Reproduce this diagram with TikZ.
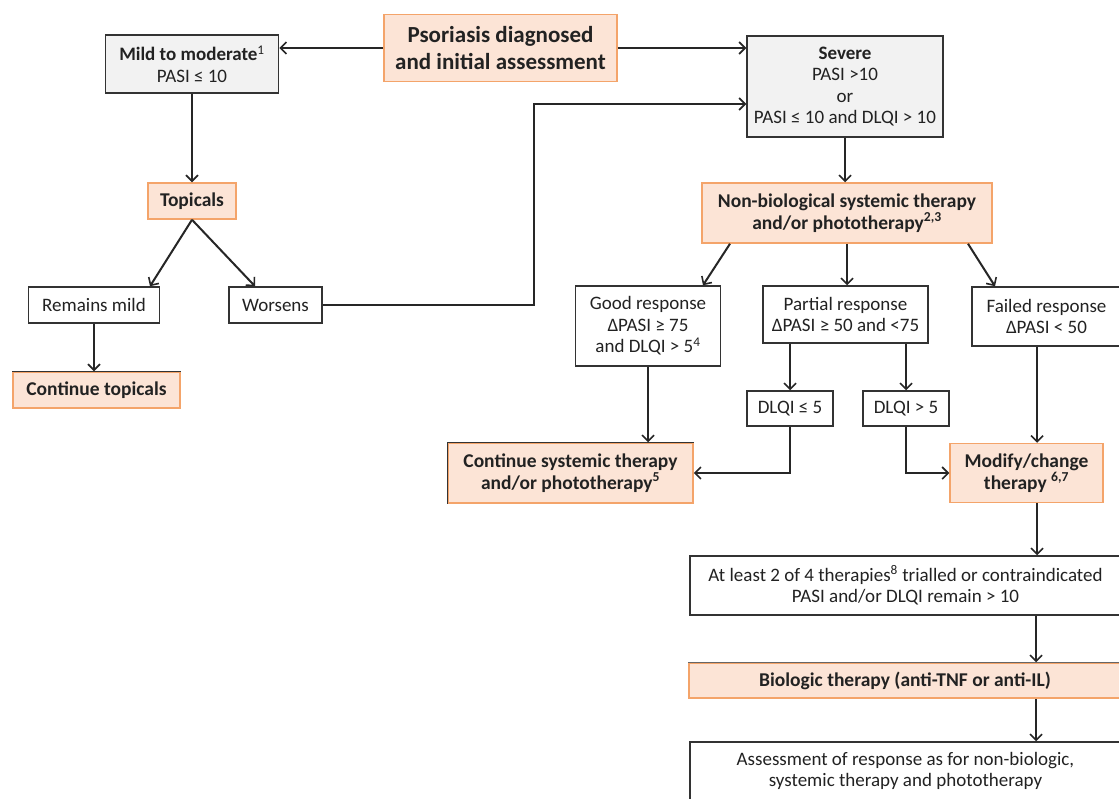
\documentclass[tikz,border=0pt]{standalone}
\usepackage{fontspec}
\setmainfont{Carlito}
\usetikzlibrary{arrows.meta,calc}
\definecolor{peach}{HTML}{FCE4D6}
\definecolor{orangeB}{HTML}{F4A46A}
\definecolor{greyF}{HTML}{F2F2F2}
\definecolor{boxB}{HTML}{333333}
\definecolor{txt}{HTML}{222222}
\tikzset{
  base/.style={rectangle, inner sep=0pt, align=center, text=txt, font=\fontsize{19}{21.5}\selectfont},
  whitebox/.style={base, draw=boxB, line width=1.5pt, fill=white},
  greybox/.style={base, draw=boxB, line width=1.5pt, fill=greyF},
  orangebox/.style={base, draw=orangeB, line width=1.5pt, fill=peach, font=\fontsize{19.5}{21.5}\selectfont\bfseries},
  darkedge/.style={line width=1.5pt, draw=boxB},
  arr/.style={line width=2pt, draw=black!85, -{Straight Barb[length=6pt,width=12pt,line width=1.6pt]}},
  sz/.style 2 args={minimum width=#1pt, minimum height=#2pt},
}
\begin{document}
\begin{tikzpicture}[x=1pt,y=-1pt]
\clip (0,0) rectangle (1119,798);
\fill[white] (0,0) rectangle (1119,798);
% nodes
\node[orangebox, sz={233}{67}, font=\fontsize{23}{27}\selectfont\bfseries] (psor) at (500.5,48) {Psoriasis diagnosed\\and initial assessment};
\node[greybox, sz={173}{58}] (mild) at (192,64) {\textbf{Mild to moderate}\textsuperscript{1}\\PASI ≤ 10};
\node[greybox, sz={196}{101}] (severe) at (845,86.5) {\textbf{Severe}\\PASI >10\\or\\PASI ≤ 10 and DLQI > 10};
\node[orangebox, sz={88}{36}] (topicals) at (192,201) {Topicals};
\node[whitebox, sz={131}{36}] (remains) at (94,305) {Remains mild};
\node[whitebox, sz={93}{36}] (worsens) at (275.5,305) {Worsens};
\node[orangebox, sz={167}{36}] (conttop) at (96.5,390) {Continue topicals};
\node[orangebox, sz={290}{60}] (nonbio) at (847,213) {Non-biological systemic therapy\\and/or phototherapy\textsuperscript{2,3}};
\node[whitebox, sz={145}{80}] (good) at (648,326) {Good response\\ΔPASI ≥ 75\\and DLQI > 5\textsuperscript{4}};
\node[whitebox, sz={165}{57}] (partial) at (845.5,314.5) {Partial response\\ΔPASI ≥ 50 and <75};
\node[whitebox, sz={149}{59}] (failed) at (1046.5,316.5) {Failed response\\ΔPASI < 50};
\node[whitebox, sz={86}{35}] (dlqia) at (790,408.5) {DLQI ≤ 5};
\node[whitebox, sz={86}{35}] (dlqib) at (906,408.5) {DLQI > 5};
\node[orangebox, sz={245}{60}] (contsys) at (570.5,473) {Continue systemic therapy\\and/or phototherapy\textsuperscript{5}};
\node[orangebox, sz={153}{59}] (modify) at (1026.5,473) {Modify/change\\therapy \textsuperscript{6,7}};
\node[whitebox, sz={431}{59}] (atleast) at (905.5,585.5) {At least 2 of 4 therapies\textsuperscript{8} trialled or contraindicated\\PASI and/or DLQI remain > 10};
\node[orangebox, sz={432}{35}] (bio) at (905,680.5) {Biologic therapy (anti-TNF or anti-IL)};
\node[whitebox, sz={431}{58}] (assess) at (905.5,771) {Assessment of response as for non-biologic,\\systemic therapy and phototherapy};
% darker top/left edges on some orange boxes
\draw[darkedge] (conttop.north west) -- (conttop.north east);
\draw[darkedge] (contsys.south west) -- (contsys.north west) -- (contsys.north east);
\draw[darkedge, draw=black!60] (bio.north west) -- (bio.north east);
% connectors
\draw[arr] (psor.west) -- (psor.west -| mild.east);
\draw[arr] (psor.east) -- (psor.east -| severe.west);
\draw[arr] (mild.south) -- (mild.south |- topicals.north);
\draw[arr] (topicals.south) -- ([xshift=56pt]remains.north);
\draw[arr] (topicals.south) -- ([xshift=-20.5pt]worsens.north);
\draw[arr] (worsens.east) -| ($(severe.west)+(-212,17.5)$) -- ($(severe.west)+(0,17.5)$);
\draw[arr] (remains.south) -- (remains.south |- conttop.north);
\draw[arr] (severe.south) -- (severe.south |- nonbio.north);
\draw[arr] ([xshift=-117pt]nonbio.south) -- ([xshift=55pt]good.north);
\draw[arr] (nonbio.south) -- (nonbio.south |- partial.north);
\draw[arr] ([xshift=121pt]nonbio.south) -- ([xshift=-51.5pt]failed.north);
\draw[arr] (dlqia.north |- partial.south) -- (dlqia.north);
\draw[arr] (dlqib.north |- partial.south) -- (dlqib.north);
\draw[arr] (good.south) -- (good.south |- contsys.north);
\draw[arr] (dlqia.south) |- (contsys.east);
\draw[arr] (dlqib.south) |- (modify.west);
\draw[arr] ([xshift=-9.5pt]failed.south) -- ([xshift=10.5pt]modify.north);
\draw[arr] ([xshift=10.5pt]modify.south) -- ([xshift=10.5pt]modify.south |- atleast.north);
\draw[arr] ([xshift=130.5pt]atleast.south) -- ([xshift=130.5pt]atleast.south |- bio.north);
\draw[arr] ([xshift=131pt]bio.south) -- ([xshift=131pt]bio.south |- assess.north);
\end{tikzpicture}
\end{document}
